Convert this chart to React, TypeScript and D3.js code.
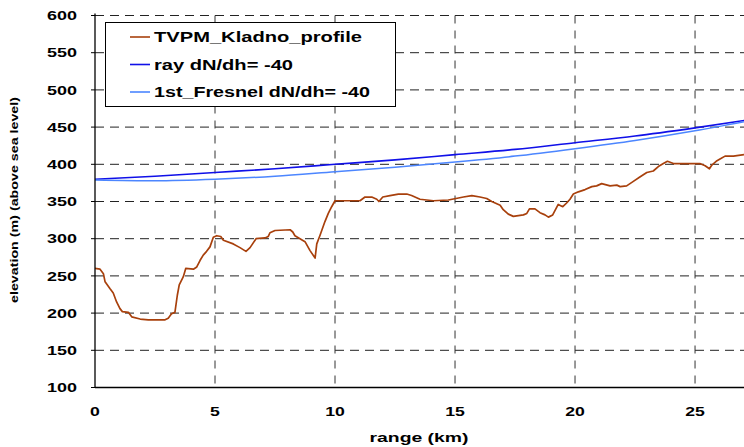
import { line, scaleLinear, curveMonotoneX } from "d3";

// terrain profile (range km / elevation m)
const profileRange = [
  0, 0.21, 0.35, 0.42, 0.62, 0.76, 0.9, 1.04, 1.14, 1.39, 1.53, 1.88, 2.22, 2.92, 3.05, 3.19, 3.33,
  3.43, 3.51, 3.68, 3.78, 4.1, 4.24, 4.38, 4.51, 4.65, 4.79, 4.93, 5.07, 5.24, 5.35, 5.76, 6.04,
  6.29, 6.46, 6.71, 7.08, 7.22, 7.29, 7.5, 8.13, 8.24, 8.33, 8.54, 8.75, 8.96, 9.17, 9.24, 9.38,
  9.58, 9.72, 9.86, 10, 10.35, 11.04, 11.25, 11.53, 11.74, 11.83, 11.99, 12.29, 12.64, 12.99,
  13.19, 13.54, 14.1, 14.72, 15.04, 15.35, 15.7, 16.04, 16.32, 16.53, 16.88, 17.01, 17.22, 17.43,
  17.85, 17.99, 18.1, 18.33, 18.54, 18.75, 18.89, 19.07, 19.3, 19.49, 19.65, 19.79, 19.93, 20.14,
  20.42, 20.7, 20.9, 21.11, 21.46, 21.74, 21.88, 22.15, 22.43, 22.7, 22.99, 23.26, 23.47, 23.68,
  23.85, 24.1, 25.2, 25.42, 25.6, 25.7, 25.88, 26.04, 26.25, 26.6, 27.04,
];
const profileElevation = [
  260, 259, 253, 242, 233, 227, 215, 206, 202, 201, 195, 192, 191, 191, 193, 199, 201,
  224, 238, 249, 260, 259, 262, 271, 278, 283, 289, 302, 304, 303, 298, 293, 288,
  283, 288, 300, 301, 303, 308, 311, 312, 309, 304, 300, 296, 284, 274, 293, 305,
  323, 334, 343, 351, 351, 351, 356, 356, 353, 350, 356, 358, 360, 360,
  358, 353, 351, 352, 354, 356, 358, 356, 354, 350, 345, 339, 333, 330,
  332, 334, 340, 340, 335, 332, 329, 332, 346, 343, 348, 353, 360, 363,
  366, 370, 371, 374, 371, 372, 370, 371, 377, 383, 389, 391, 397, 401,
  404, 401, 401, 398, 394, 399, 404, 407, 411, 411, 413,
];

const rayRange = [0, 2.5, 5, 7.5, 10, 12.5, 15, 17.5, 20, 22.5, 25, 27.5];
const rayElevation = [380, 384, 389, 394, 400, 406, 413, 420, 429, 438, 449, 461];
const fresnelElevation = [379, 378, 380, 384, 390, 396, 403, 411, 421, 432, 445, 460];

const xTicks = [0, 5, 10, 15, 20, 25];
const yTicks = [100, 150, 200, 250, 300, 350, 400, 450, 500, 550, 600];

const legendLabels = ["TVPM_Kladno_profile", "ray dN/dh= -40", "1st_Fresnel dN/dh= -40"];
const legendWidths = [208, 139, 216];

const colors = { profile: "#A8400C", ray: "#1010E8", fresnel: "#4C86FF" };
const font = "'Liberation Sans', Arial, sans-serif";

export default function App() {
  const width = 744;
  const height = 447;
  const left = 95;
  const top = 15.5;
  const bottom = 387.5;

  const x = scaleLinear().domain([0, 27.04]).range([left, width]);
  const y = scaleLinear().domain([100, 600]).range([bottom, top]);

  const profilePath = line<number>()
    .x((_, i) => x(profileRange[i]))
    .y((d) => y(d))(profileElevation);

  const smooth = (vals: number[]) =>
    line<number>()
      .x((_, i) => x(rayRange[i]))
      .y((d) => y(d))
      .curve(curveMonotoneX)(vals);

  return (
    <svg
      width={width}
      height={height}
      style={{ position: "absolute", left: 0, top: 0, background: "#fff" }}
      fontFamily={font}
      fontWeight="bold"
    >
      <defs>
        <clipPath id="plot">
          <rect x={left} y={0} width={width - left} height={bottom} />
        </clipPath>
      </defs>

      {/* grid */}
      {yTicks.slice(1).map((t) => (
        <line
          key={"gy" + t}
          x1={left}
          x2={width}
          y1={y(t)}
          y2={y(t)}
          stroke="#222"
          strokeDasharray="9,6"
        />
      ))}
      {xTicks.slice(1).map((t) => (
        <line
          key={"gx" + t}
          x1={x(t)}
          x2={x(t)}
          y1={top}
          y2={bottom}
          stroke="#333"
          strokeDasharray="8,7"
        />
      ))}

      {/* series */}
      <g clipPath="url(#plot)" fill="none">
        <path d={smooth(rayElevation) ?? ""} stroke={colors.ray} strokeWidth={1.6} />
        <path d={smooth(fresnelElevation) ?? ""} stroke={colors.fresnel} strokeWidth={1.5} />
        <path d={profilePath ?? ""} stroke={colors.profile} strokeWidth={1.7} strokeLinejoin="round" />
      </g>

      {/* axes */}
      <line x1={left} x2={left} y1={top - 2} y2={bottom} stroke="#000" strokeWidth={1.3} />
      <line x1={left} x2={width} y1={bottom} y2={bottom} stroke="#000" strokeWidth={1.3} />
      {yTicks.map((t) => (
        <g key={"ty" + t}>
          <line x1={left - 4} x2={left} y1={y(t)} y2={y(t)} stroke="#000" />
          <text
            x={77}
            y={y(t)}
            dy="0.36em"
            textAnchor="end"
            fontSize={13}
            textLength={30}
            lengthAdjust="spacingAndGlyphs"
          >
            {t}
          </text>
        </g>
      ))}
      {xTicks.map((t) => (
        <text
          key={"tx" + t}
          x={x(t)}
          y={416}
          textAnchor="middle"
          fontSize={13}
          textLength={String(t).length * 9.8}
          lengthAdjust="spacingAndGlyphs"
        >
          {t}
        </text>
      ))}

      <text
        x={419}
        y={442}
        textAnchor="middle"
        fontSize={13}
        textLength={99}
        lengthAdjust="spacingAndGlyphs"
      >
        range (km)
      </text>
      <text
        transform="translate(18,200) rotate(-90)"
        textAnchor="middle"
        fontSize={11.5}
        textLength={206}
        lengthAdjust="spacingAndGlyphs"
      >
        elevation (m) (above sea level)
      </text>

      {/* legend */}
      <rect x={105.5} y={22.5} width={290} height={84} fill="#fff" stroke="#000" />
      {legendLabels.map((label, i) => {
        const ly = 37 + i * 27.5;
        const c = [colors.profile, colors.ray, colors.fresnel][i];
        return (
          <g key={label}>
            <line x1={130} x2={150} y1={ly} y2={ly} stroke={c} strokeWidth={1.6} />
            <text
              x={154}
              y={ly + 5}
              fontSize={14}
              textLength={legendWidths[i]}
              lengthAdjust="spacingAndGlyphs"
            >
              {label}
            </text>
          </g>
        );
      })}
    </svg>
  );
}
